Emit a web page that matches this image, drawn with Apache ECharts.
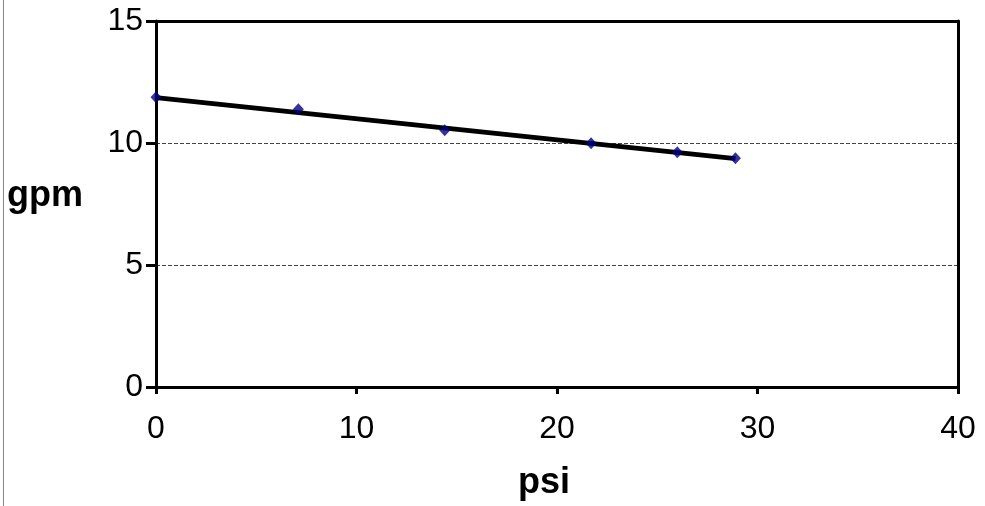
<!DOCTYPE html>
<html>
<head>
<meta charset="utf-8">
<script src="https://cdn.jsdelivr.net/npm/echarts@6/dist/echarts.min.js"></script>
<style>
html,body{margin:0;padding:0;background:#fff;}
#c{width:985px;height:506px;}
</style>
</head>
<body>
<div id="c"></div>
<script>
// measured points (psi, gpm)
var psi = [0, 7.1, 14.4, 21.7, 26.0, 28.9];
var gpm = [11.88, 11.38, 10.52, 9.99, 9.62, 9.37];
// trendline endpoints
var trendPsi = [0, 28.9];
var trendGpm = [11.86, 9.36];
var xTicks = [0, 10, 20, 30, 40];
var yTicks = [0, 5, 10, 15];

var pts = psi.map(function (x, i) { return [x, gpm[i]]; });
var trend = trendPsi.map(function (x, i) { return [x, trendGpm[i]]; });

var FONT = 'Liberation Sans, Arial, sans-serif';
var chart = echarts.init(document.getElementById('c'));
chart.setOption({
  animation: false,
  backgroundColor: '#fff',
  grid: { left: 156, right: 27, top: 21, bottom: 119 },
  xAxis: [{
    type: 'value', min: xTicks[0], max: xTicks[xTicks.length - 1], interval: 10,
    axisLine: { lineStyle: { color: '#000', width: 3 } },
    axisTick: { show: true, length: 7, lineStyle: { color: '#000', width: 3 } },
    axisLabel: { color: '#000', fontSize: 32, fontFamily: FONT, margin: 26 },
    splitLine: { show: false }
  }, {
    type: 'value', position: 'top', min: 0, max: 40, interval: 10,
    axisLine: { show: true, onZero: false, lineStyle: { color: '#000', width: 3 } },
    axisTick: { show: false }, axisLabel: { show: false }, splitLine: { show: false }
  }],
  yAxis: [{
    type: 'value', min: yTicks[0], max: yTicks[yTicks.length - 1], interval: 5,
    axisLine: { show: true, lineStyle: { color: '#000', width: 3 } },
    axisTick: { show: true, length: 10, lineStyle: { color: '#000', width: 3 } },
    axisLabel: { color: '#000', fontSize: 32, fontFamily: FONT, margin: 13 },
    splitLine: { show: true, lineStyle: { color: '#444', width: 1, type: [4, 2] } }
  }, {
    type: 'value', position: 'right', min: 0, max: 15, interval: 5,
    axisLine: { show: true, onZero: false, lineStyle: { color: '#000', width: 3 } },
    axisTick: { show: false }, axisLabel: { show: false }, splitLine: { show: false }
  }],
  series: [{
    type: 'line', data: trend, showSymbol: false, symbol: 'none',
    lineStyle: { color: '#000', width: 5 }, z: 2
  }, {
    type: 'scatter', data: pts, symbol: 'diamond', symbolSize: [11, 12],
    itemStyle: { color: '#000080' }, z: 3
  }],
  graphic: [{
    type: 'line', shape: { x1: 3.5, y1: 0, x2: 3.5, y2: 506 },
    style: { stroke: '#888', lineWidth: 1 }
  }, {
    type: 'text', left: 7, top: 178,
    style: { text: 'gpm', font: 'bold 36px ' + FONT, fill: '#000' }
  }, {
    type: 'text', left: 518, top: 465,
    style: { text: 'psi', font: 'bold 36px ' + FONT, fill: '#000' }
  }]
});
</script>
</body>
</html>
